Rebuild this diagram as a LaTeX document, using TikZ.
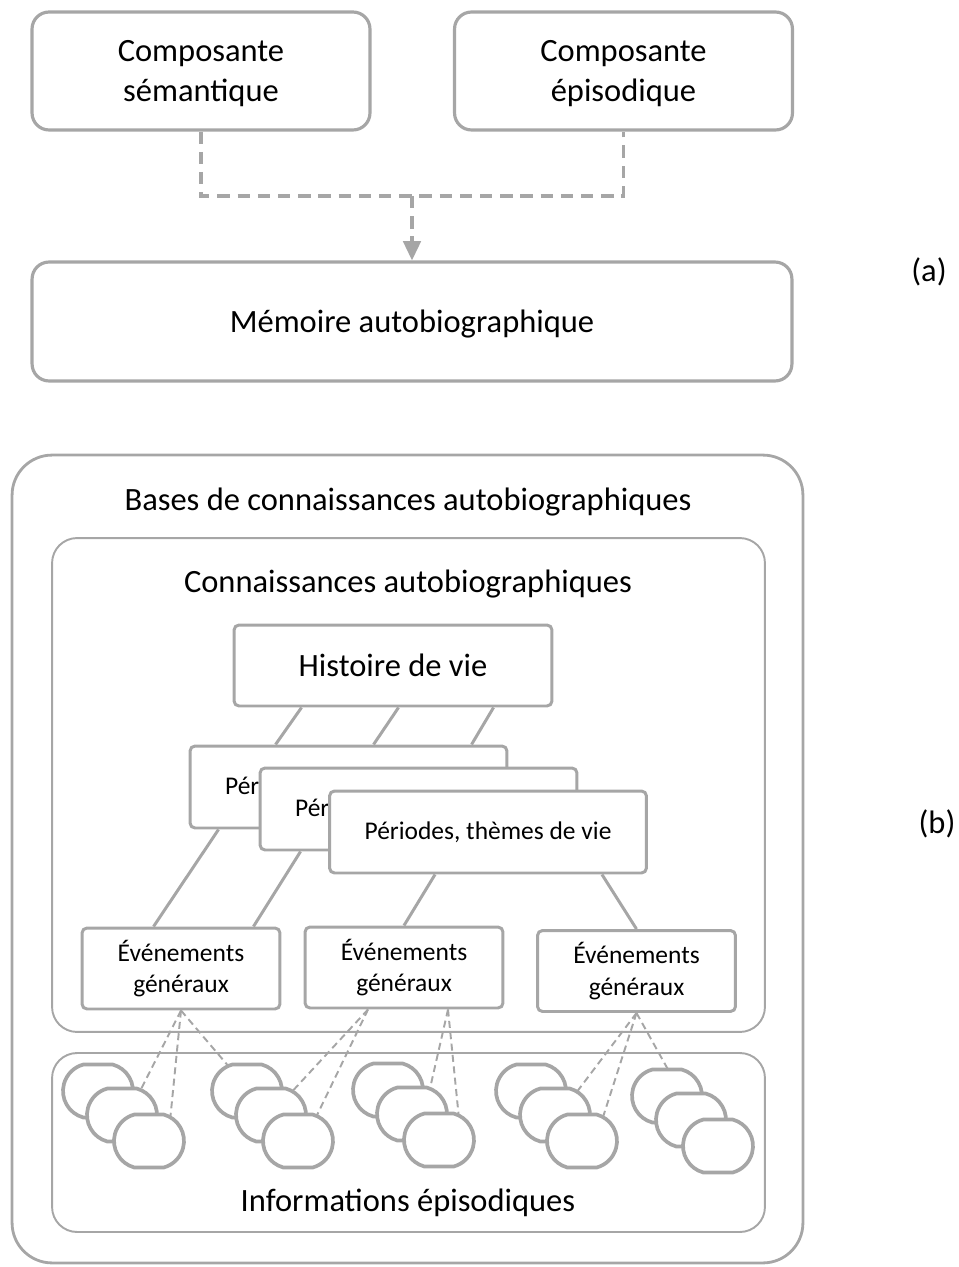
\documentclass[tikz,border=0pt]{standalone}
\usepackage{fontspec}
\setmainfont{Carlito}
\usepackage{xcolor}
\usepackage{tikz}
\usetikzlibrary{arrows.meta,calc,positioning,backgrounds,shapes.misc}
\definecolor{linegray}{RGB}{166,166,166}
\tikzset{
    component/.style = {rectangle, rounded corners=0.34cm, minimum width=6.76cm, minimum height=2.36cm, align=center, draw=linegray, line width=1.8pt, fill=white, font=\fontsize{18.5}{23}\selectfont, text depth=0pt},
    container/.style = {rectangle, draw=linegray, inner sep=0pt},
    title/.style = {inner sep=0pt, font=\fontsize{18.5}{22.5}\selectfont},
    lifestory/.style = {rectangle, rounded corners=0.1cm, minimum width=6.36cm, minimum height=1.62cm, draw=linegray, line width=1.7pt, fill=white, font=\fontsize{18.5}{22.5}\selectfont},
    period/.style = {rectangle, rounded corners=0.1cm, minimum width=6.34cm, minimum height=1.64cm, draw=linegray, line width=1.7pt, fill=white, font=\fontsize{14.5}{18}\selectfont},
    event/.style = {rectangle, rounded corners=0.1cm, minimum width=3.96cm, minimum height=1.62cm, align=center, draw=linegray, line width=1.7pt, fill=white, font=\fontsize{14.5}{18}\selectfont},
    episode/.style = {rounded rectangle, rounded rectangle arc length=150, minimum width=1.4cm, minimum height=1.06cm, inner sep=0pt, draw=linegray, line width=2.1pt, fill=white},
    link/.style = {draw=linegray, line width=1.7pt},
    dashlink/.style = {draw=linegray, line width=1.8pt, dash pattern=on 7pt off 4.5pt},
    assoc/.style = {draw=linegray, line width=1.1pt, dash pattern=on 4pt off 2.5pt, shorten >=-3pt}
}

\begin{document}
\begin{tikzpicture}[x=0.02cm, y=-0.02cm]
    \useasboundingbox (0,0) rectangle (958,1267);

    % (a) Components
    \node [component] (sem) at (201,71) {Composante\\sémantique};
    \node [component] (epi) at (623.5,71) {Composante\\épisodique};
    \node [component, minimum width=15.2cm, minimum height=2.38cm] (mem) at (412,321.5) {Mémoire autobiographique};
    \coordinate (join) at (412,196);
    \draw [dashlink] (sem.south) |- (join) -| (epi.south);
    \draw [dashlink, -{Triangle[width=10pt,length=11pt]}, linegray] (join) -- (mem.north);
    \node [title] (labela) at (929,272) {(a)};

    % (b) Containers
    \node [container, line width=1.6pt, rounded corners=0.8cm, minimum width=15.82cm, minimum height=16.16cm] (bases) at (407.5,859) {};
    \node [title] (basestitle) at (408,502) {Bases de connaissances autobiographiques};
    \node [container, line width=1.1pt, rounded corners=0.5cm, minimum width=14.26cm, minimum height=9.88cm] (know) at (408.5,785) {};
    \node [title] (knowtitle) at (408,584) {Connaissances autobiographiques};
    \node [container, line width=1.1pt, rounded corners=0.5cm, minimum width=14.26cm, minimum height=3.58cm] (info) at (408.5,1142.5) {};
    \node [title] (infotitle) at (408,1203) {Informations épisodiques};
    \node [title] (labelb) at (937,824) {(b)};

    % Hierarchy
    \node [lifestory] (hist) at (393,665.5) {Histoire de vie};
    \node [period] (per1) at (348.5,787) {Périodes, thèmes de vie};
    \node [period] (per2) at (418.5,809) {Périodes, thèmes de vie};
    \node [period] (per3) at (488,832) {Périodes, thèmes de vie};
    \foreach \a/\b in {69/87, 166/185, 261/283}
        \draw [link] ($(hist.south west)+(\a,0)$) -- ($(per1.north west)+(\b,0)$);

    \node [event] (ev1) at (181,968.5) {Événements\\généraux};
    \node [event] (ev2) at (404,967.5) {Événements\\généraux};
    \node [event] (ev3) at (636.5,971) {Événements\\généraux};

    \draw [link] ($(per1.south west)+(30,0)$) -- ($(ev1.north west)+(73,0)$);
    \draw [link] ($(per2.south west)+(42,0)$) -- ($(ev1.north east)+(-28,0)$);
    \draw [link] ($(per3.south west)+(107,0)$) -- (ev2.north);
    \draw [link] ($(per3.south east)+(-46,0)$) -- (ev3.north);

    % Episodic informations
    \foreach \g/\x/\y in {1/98/1091, 2/247/1091, 3/388/1090, 4/531/1091, 5/667/1096} {
        \node [episode] (ep\g-1) at (\x,\y) {};
        \node [episode] (ep\g-2) at (\x+24,\y+24) {};
        \node [episode] (ep\g-3) at (\x+51,\y+50) {};
    }

    % Episodic links
    \coordinate (ev2l) at ($(ev2.south)+(-36,0)$);
    \coordinate (ev2r) at ($(ev2.south)+(44,0)$);
    \begin{scope}[on background layer]
        \draw [assoc] (ev1.south) -- (ep1-2.54);
        \draw [assoc] (ev1.south) -- (ep1-3.50);
        \draw [assoc] (ev1.south) -- (ep2-1.127);
        \draw [assoc] (ev2l) -- (ep2-2.48);
        \draw [assoc] (ev2l) -- (ep2-3.54);
        \draw [assoc] (ev2r) -- (ep3-2.56);
        \draw [assoc] (ev2r) -- (ep3-3.54);
        \draw [assoc] (ev3.south) -- (ep4-2.47);
        \draw [assoc] (ev3.south) -- (ep4-3.50);
        \draw [assoc] (ev3.south) -- (ep5-1.north);
    \end{scope}
\end{tikzpicture}
\end{document}
